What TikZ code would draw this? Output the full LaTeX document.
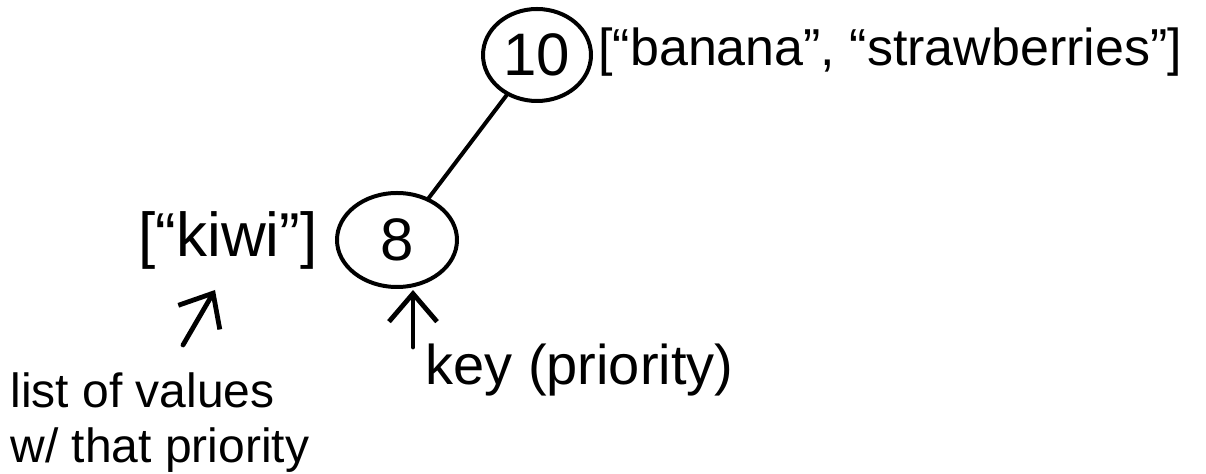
\documentclass[tikz,border=0pt]{standalone}
\usepackage{fontspec}
\setmainfont{Liberation Sans}
\usetikzlibrary{shapes.geometric,arrows.meta}
\begin{document}
\begin{tikzpicture}[x=0.5pt,y=-0.5pt,
  ink/.style={line width=2pt,line cap=round,line join=round},
  keynode/.style={ink,draw,ellipse,inner sep=0pt,font=\fontsize{30}{32}\selectfont},
  note/.style={inner sep=0pt},
  pointer/.style={ink,line width=2.4pt,-{Straight Barb[length=14pt,width=24pt]}}]
\useasboundingbox (0,0) rectangle (1206,474);
% tree of priorities
\node[keynode,minimum width=54pt,minimum height=46pt] (n10) at (537,55) {10};
\node[keynode,minimum width=60pt,minimum height=47pt] (n8) at (397,240) {8};
\draw[ink] (n10) -- (n8);
% value lists
\node[note,anchor=west,font=\fontsize{26}{30}\selectfont] (v10) at (598,52) {[“banana”, “strawberries”]};
\node[note,font=\fontsize{31}{34}\selectfont] (v8) at (228,240) {[“kiwi”]};
% explanations
\node[note,anchor=north west,align=left,font=\fontsize{24}{27.5}\selectfont] (lv) at (10,372) {list of values\\w/ that priority};
\node[note,anchor=west,font=\fontsize{28}{30}\selectfont] (kp) at (425,370) {key (priority)};
\coordinate (t1) at (183,345);
\coordinate (h1) at (215,290);
\coordinate (t2) at (413,347);
\coordinate (h2) at (413,290);
\draw[pointer] (t1) -- (h1);
\draw[pointer] (t2) -- (h2);
\end{tikzpicture}
\end{document}
